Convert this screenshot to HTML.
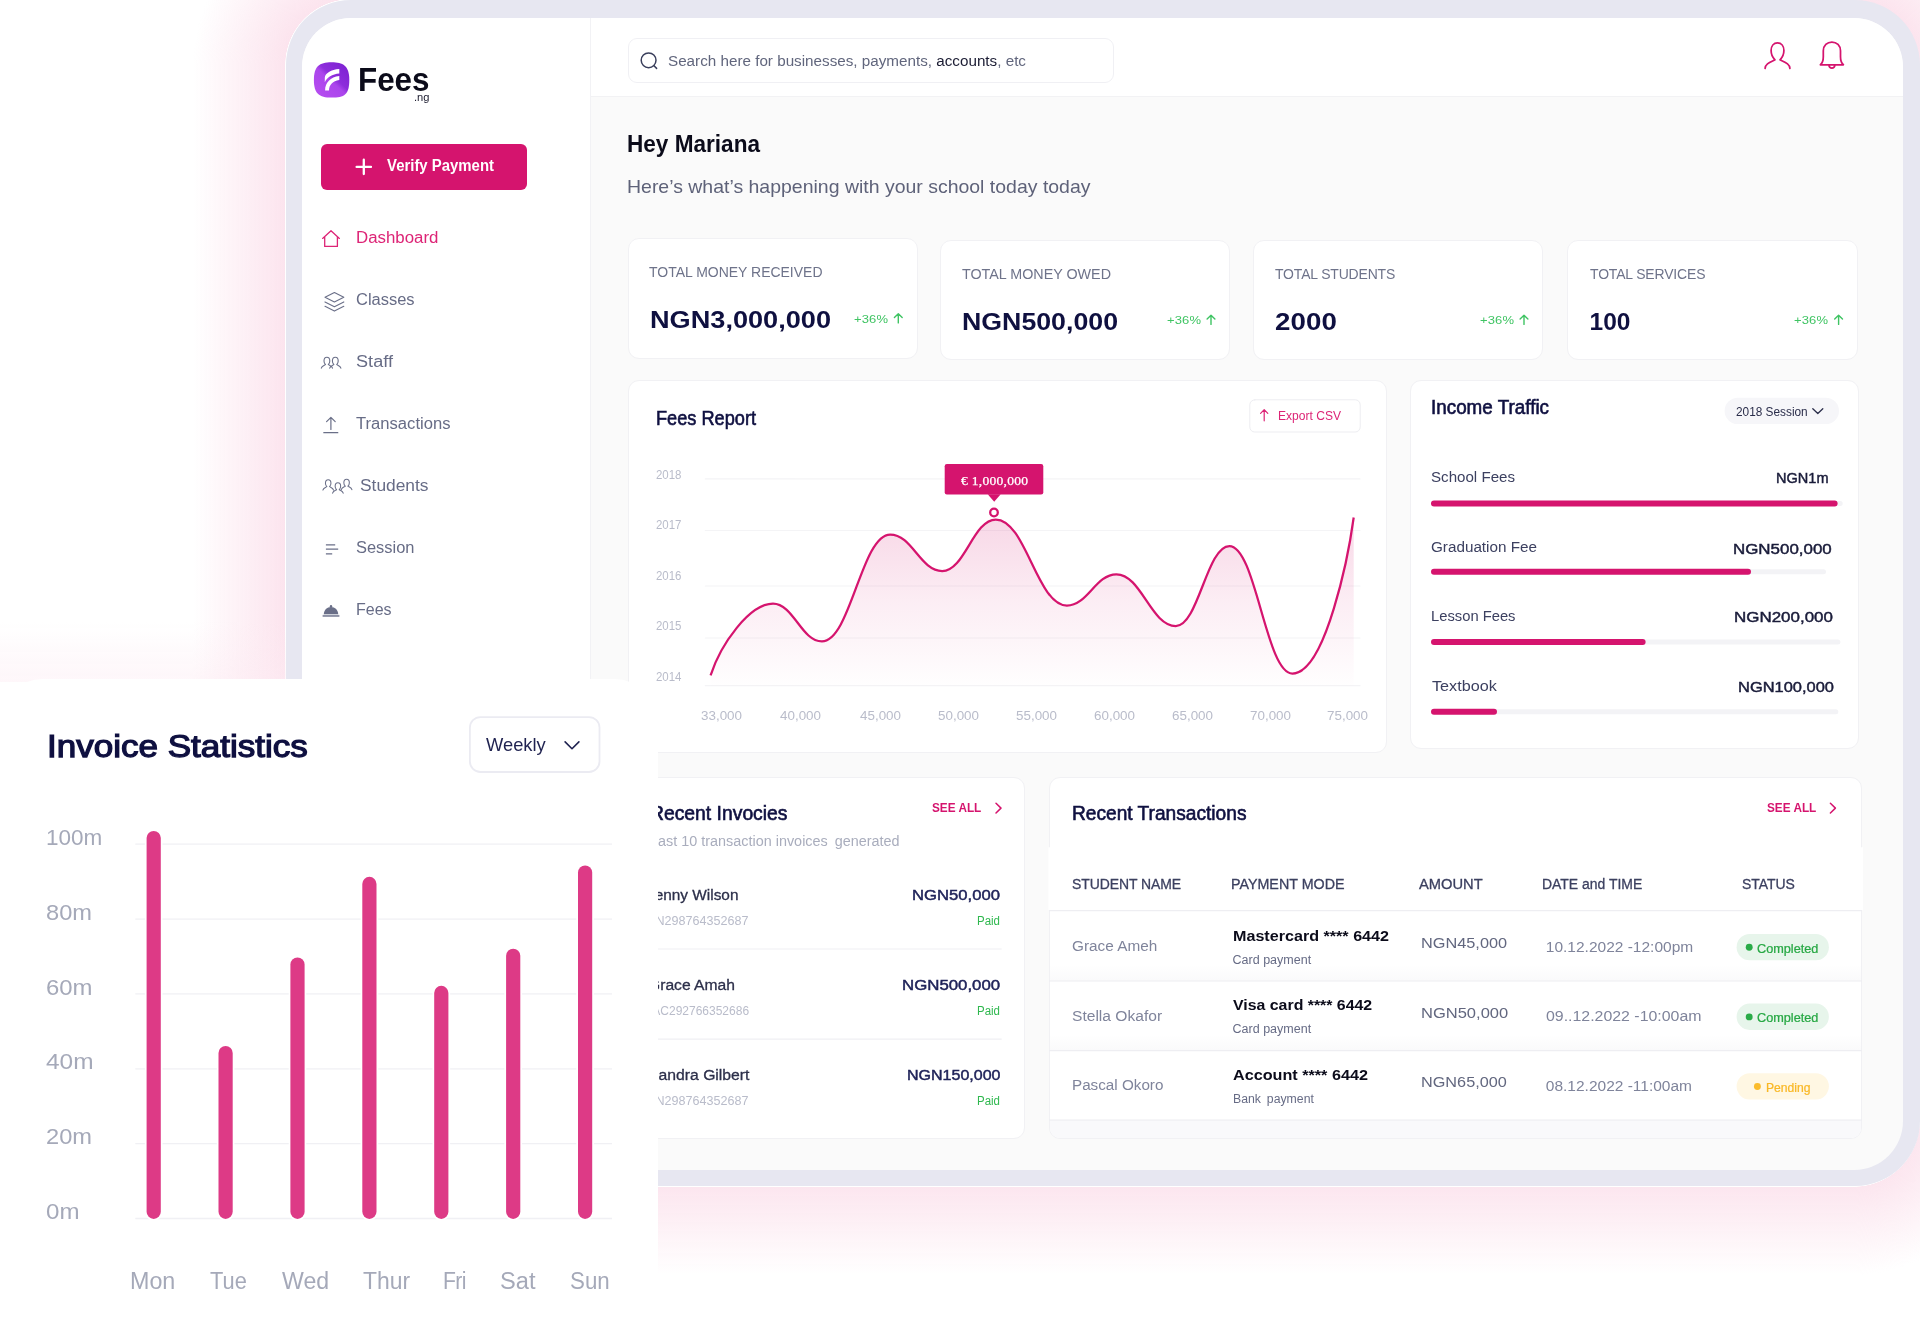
<!DOCTYPE html>
<html lang="en">
<head>
<meta charset="utf-8">
<title>Fees.ng Dashboard</title>
<style>

*{box-sizing:border-box;margin:0;padding:0}
html,body{width:1920px;height:1337px;overflow:hidden;background:#fff}
body{position:relative;font-family:"Liberation Sans",Arial,sans-serif;-webkit-font-smoothing:antialiased;will-change:transform}
.abs,.t,.card{position:absolute}
.g{display:contents}
.t{white-space:nowrap;line-height:1;display:block;transform-origin:0 50%}
.sf{font-family:"Liberation Serif","DejaVu Serif",serif}
.layer{position:absolute;left:0;top:0;width:1920px;height:1337px;will-change:transform}
.frame{position:absolute;left:286px;top:0;width:1634px;height:1186px;border-radius:65px;background:#e7e7f1}
.screen{position:absolute;left:302px;top:17.5px;width:1601px;height:1152.5px;border-radius:49px;background:#fafafa;overflow:hidden}
.screen>.in{position:absolute;left:-302px;top:-17.5px;width:1920px;height:1337px}
.sidebar{left:302px;top:17px;width:289px;height:1154px;background:#fff;border-right:1px solid #f2f2f5}
.topbar{left:591px;top:17px;width:1313px;height:80px;background:#fff;border-bottom:1px solid #f2f2f4}
.search{left:628px;top:38px;width:485.5px;height:45px;border:1px solid #f0f0f4;border-radius:9px;background:#fff}
.btn{left:321px;top:144px;width:206px;height:45.5px;border-radius:6px;background:#d5146e}
.card{background:#fff;border:1px solid #f1f1f4;border-radius:11px}
.statcard{position:absolute;left:-1px;top:678.5px;width:658.8px;height:658.5px;background:#fff;border-radius:44px}
svg{position:absolute;overflow:visible}

</style>
</head>
<body>

<div class="layer" id="bg">
  <div class="abs" style="left:193px;top:65px;width:92px;height:640px;background:linear-gradient(to right,rgba(252,228,238,0),rgba(252,228,238,.5) 50%,#fce4ee)"></div>
  <div class="abs" style="left:193px;top:0;width:158px;height:65px;background:radial-gradient(circle at 158px 65px,rgba(252,228,238,0) 65.5px,#fce4ee 66px,rgba(252,228,238,.5) 112px,rgba(252,228,238,0) 158px)"></div>
  <div class="abs" style="left:600px;top:1187px;width:1254px;height:88px;background:linear-gradient(to bottom,#fce6ef 0,rgba(252,230,239,.5) 44px,rgba(252,230,239,0) 88px)"></div>
  <div class="abs" style="left:1854px;top:1121px;width:66px;height:160px;background:radial-gradient(circle at 0 0,rgba(252,230,239,0) 65.5px,#fce6ef 66px,rgba(252,230,239,.5) 110px,rgba(252,230,239,0) 154px)"></div>
  <div class="abs" style="left:1854px;top:0;width:66px;height:66px;background:radial-gradient(circle at 0 65px,#fce4ee 65px,rgba(252,228,238,.5) 110px,rgba(252,228,238,0) 155px)"></div>
  <div class="abs" style="left:0;top:622px;width:286px;height:60px;background:linear-gradient(to bottom,rgba(253,236,243,0),rgba(253,236,243,.45))"></div>
</div>
<div class="frame"></div>
<div class="screen"><div class="in">
  <div class="abs sidebar"></div>
  <div class="abs topbar"></div>
  <div class="abs search"></div>
  <div class="abs btn"></div>

  <!-- stat cards -->
  <div class="card" style="left:627.5px;top:238px;width:290px;height:120.5px"></div>
  <div class="card" style="left:940px;top:240px;width:290px;height:120px"></div>
  <div class="card" style="left:1253px;top:240px;width:290px;height:120px"></div>
  <div class="card" style="left:1567px;top:240px;width:291px;height:120px"></div>

  <!-- fees report -->
  <div class="card" style="left:627.5px;top:380px;width:759px;height:372.5px"></div>
  <!-- income traffic -->
  <div class="card" style="left:1410px;top:380px;width:449px;height:369px"></div>
  <!-- recent invoices -->
  <div class="card" style="left:627.5px;top:776.5px;width:397px;height:362.5px"></div>
  <!-- recent transactions -->
  <div class="card" style="left:1049px;top:776.5px;width:813px;height:362.5px"></div>

  <svg width="1920" height="1337" viewBox="0 0 1920 1337" style="left:0;top:0" fill="none" stroke-linecap="round" stroke-linejoin="round">
<defs>
<linearGradient id="lg" x1="1" y1="0" x2="0.1" y2="1"><stop offset="0" stop-color="#7a1fd0"/><stop offset=".45" stop-color="#8d2ddb"/><stop offset=".55" stop-color="#ab45ec"/><stop offset="1" stop-color="#b64df0"/></linearGradient>
<linearGradient id="cf" gradientUnits="userSpaceOnUse" x1="0" y1="517" x2="0" y2="686"><stop offset="0" stop-color="#d5146e" stop-opacity=".17"/><stop offset=".5" stop-color="#d5146e" stop-opacity=".075"/><stop offset="1" stop-color="#d5146e" stop-opacity=".004"/></linearGradient>
</defs>
<g transform="translate(313.9 62.2)"><path d="M17.7 0C29 0 35.4 3.2 35.4 17.7S30.5 35.4 17.7 35.4 0 31 0 17.7 5 0 17.7 0Z" fill="url(#lg)"/><path d="M25.4 6.8C17 7.4 11.2 11 10.9 15.5V20c2-5 7.5-8.2 14.5-8.8Z" fill="#fff"/><path d="M25.4 13.8C16.5 14.8 11.2 20.5 11.2 28.2h3.9c.1-5.2 3.8-9.6 10.3-10.3Z" fill="#fff"/></g>
<path d="M356.600 166.900h14.400M363.800 159.700v14.400" stroke="#fff" stroke-width="2.300"/>
<path d="M322.6 238.4 331 230.8l8.4 7.6M324.7 237v9.4h12.7V237" stroke="#dd2476" stroke-width="1.3"/>
<g stroke="#6a6f88" stroke-width="1.1"><path d="M334.4 292.5 343.8 297.3 334.4 302 325 297.3Z"/><path d="M325 301.9 334.4 306.7 343.8 301.9M325 306.3 334.4 311.1 343.8 306.3"/></g>
<path d="M321.30 368.20c0.40 -2.20 2.40 -2.60 4.20 -3.60c-1.20 -1.00 -1.50 -2.20 -1.50 -3.60c0 -2.20 1.30 -3.70 2.90 -3.70s2.90 1.50 2.90 3.70c0 1.40 -0.30 2.60 -1.50 3.60c1.80 1.00 3.80 1.40 4.20 3.60M329.70 368.20c0.40 -2.20 2.40 -2.60 4.20 -3.60c-1.20 -1.00 -1.50 -2.20 -1.50 -3.60c0 -2.20 1.30 -3.70 2.90 -3.70s2.90 1.50 2.90 3.70c0 1.40 -0.30 2.60 -1.50 3.60c1.80 1.00 3.80 1.40 4.20 3.60" stroke="#6a6f88" stroke-width="1.1"/>
<path d="M323.8 432.7h14M330.9 429.4v-12M326.6 421.6l4.3-4.3 4.3 4.3" stroke="#6a6f88" stroke-width="1.2"/>
<path d="M322.88 490.04c0.38 -2.09 2.28 -2.47 3.99 -3.42c-1.14 -0.95 -1.42 -2.09 -1.42 -3.42c0 -2.09 1.23 -3.52 2.75 -3.52s2.75 1.42 2.75 3.52c0 1.33 -0.28 2.47 -1.42 3.42c1.71 0.95 3.61 1.33 3.99 3.42M332.58 493.14c0.38 -2.09 2.28 -2.47 3.99 -3.42c-1.14 -0.95 -1.42 -2.09 -1.42 -3.42c0 -2.09 1.23 -3.52 2.75 -3.52s2.75 1.42 2.75 3.52c0 1.33 -0.28 2.47 -1.42 3.42c1.71 0.95 3.61 1.33 3.99 3.42M341.28 489.64c0.38 -2.09 2.28 -2.47 3.99 -3.42c-1.14 -0.95 -1.42 -2.09 -1.42 -3.42c0 -2.09 1.23 -3.52 2.75 -3.52s2.75 1.42 2.75 3.52c0 1.33 -0.28 2.47 -1.42 3.42c1.71 0.95 3.61 1.33 3.99 3.42" stroke="#6a6f88" stroke-width="1.05"/>
<path d="M325.9 544.8h9.3M325.9 549.2h12.3M325.9 553.8h6.3" stroke="#6a6f88" stroke-width="1.3" stroke-linecap="butt"/>
<path d="M323.8 614.3c0-4.2 3.2-7.4 7.2-7.4s7.2 3.2 7.2 7.4Z" fill="#6a6f88"/><circle cx="331" cy="606.3" r="1.2" fill="#6a6f88"/><rect x="322.6" y="614.9" width="16.8" height="2" fill="#8e92a6"/>
<circle cx="648.6" cy="60.3" r="7.4" stroke="#3a3f5c" stroke-width="1.5"/><path d="M654 65.8l2.6 2.6" stroke="#3a3f5c" stroke-width="1.5"/>
<path d="M1765.1 68.4c.2-4.6 4.5-6 9.9-8.6-2.6-2.4-3.9-5.3-3.9-9.2 0-4.6 2.6-7.7 6.4-7.7s6.4 3.1 6.4 7.7c0 3.9-1.3 6.8-3.9 9.200 5.400 2.600 9.700 4.000 9.900 8.600" stroke="#d5146e" stroke-width="1.75"/>
<path d="M1820.4 64.800c2.600-2.000 2.900-5.000 2.900-8.000v-6c0-5.200 3.800-8.800 8.600-8.800s8.600 3.600 8.600 8.800v6c0 3.000.3 6.000 2.900 8.000ZM1828.900 65.200c.3 1.900 1.400 3.000 3.000 3.000s2.700-1.100 3.000-3.000" stroke="#d5146e" stroke-width="1.75"/>
<path d="M898.3 322.9v-9.200M894.4 317.6l3.900-3.900 3.900 3.900" stroke="#3fc463" stroke-width="1.4"/>
<path d="M1211.0 324.4v-9.200M1207.1 319.1l3.900-3.900 3.900 3.900" stroke="#3fc463" stroke-width="1.4"/>
<path d="M1524.0 324.4v-9.200M1520.1 319.1l3.900-3.900 3.900 3.900" stroke="#3fc463" stroke-width="1.4"/>
<path d="M1838.6 324.4v-9.200M1834.7 319.1l3.900-3.900 3.900 3.900" stroke="#3fc463" stroke-width="1.4"/>
<rect x="1249.800" y="399.800" width="110.400" height="32.200" rx="5" fill="#fff" stroke="#ededf1"/>
<path d="M1264.200 420.800v-11M1260.600 413.400l3.600-3.700 3.600 3.700" stroke="#dd2476" stroke-width="1.2"/>
<path d="M705.300 478.9H1360" stroke="#f4f4f6" stroke-width="1.2"/>
<path d="M705.300 530.5H1360" stroke="#f4f4f6" stroke-width="1.2"/>
<path d="M705.300 586.0H1360" stroke="#f4f4f6" stroke-width="1.2"/>
<path d="M705.300 638.0H1360" stroke="#f4f4f6" stroke-width="1.2"/>
<path d="M705.300 685.7H1360" stroke="#f4f4f6" stroke-width="1.2"/>
<path d="M710.6 675.3C720.8 644.0 749.3 603.9 773.0 603.7C793.5 603.7 801.4 641.4 821.9 641.4C850.6 641.4 861.5 534.5 890.2 534.5C912.0 534.5 920.4 571.1 942.2 571.1C964.7 571.1 973.3 519.5 995.8 519.5C1025.7 519.5 1037.0 605.6 1066.9 605.6C1087.7 605.6 1095.6 574.3 1116.4 574.3C1141.3 574.3 1150.9 626.0 1175.8 626.0C1198.3 626.0 1206.9 546.0 1229.4 546.0C1255.9 546.0 1265.9 673.5 1292.4 673.5C1326.0 673.5 1349.0 552.0 1353.7 517.5V686H710.600Z" fill="url(#cf)" stroke="none"/><path d="M710.6 675.3C720.8 644.0 749.3 603.9 773.0 603.7C793.5 603.7 801.4 641.4 821.9 641.4C850.6 641.4 861.5 534.5 890.2 534.5C912.0 534.5 920.4 571.1 942.2 571.1C964.7 571.1 973.3 519.5 995.8 519.5C1025.7 519.5 1037.0 605.6 1066.9 605.6C1087.7 605.6 1095.6 574.3 1116.4 574.3C1141.3 574.3 1150.9 626.0 1175.8 626.0C1198.3 626.0 1206.9 546.0 1229.4 546.0C1255.9 546.0 1265.9 673.5 1292.4 673.5C1326.0 673.5 1349.0 552.0 1353.7 517.5" stroke="#d5146e" stroke-width="2.250" stroke-linecap="butt"/>
<rect x="944.700" y="464" width="98.600" height="30.500" rx="2.200" fill="#d5146e"/><path d="M987.700 494.300h13l-6.500 7.500Z" fill="#d5146e"/>
<circle cx="994" cy="512.500" r="3.800" fill="#fff" stroke="#d5146e" stroke-width="2.300"/>
<rect x="1724.600" y="397.700" width="114.400" height="26.400" rx="13.200" fill="#f6f6f9"/>
<path d="M1812.800 408.700l5 4.800 5-4.800" stroke="#2a2d4a" stroke-width="1.3"/>
<path d="M1433.500 503.6H1840.2" stroke="#f3f3f6" stroke-width="5"/>
<path d="M1434 503.6H1834.6" stroke="#d5146e" stroke-width="6"/>
<path d="M1433.500 571.8H1823.5" stroke="#f3f3f6" stroke-width="5"/>
<path d="M1434 571.8H1748.0" stroke="#d5146e" stroke-width="6"/>
<path d="M1433.500 642.1H1837.9" stroke="#f3f3f6" stroke-width="5"/>
<path d="M1434 642.1H1642.6" stroke="#d5146e" stroke-width="6"/>
<path d="M1433.500 711.8H1835.8" stroke="#f3f3f6" stroke-width="5"/>
<path d="M1434 711.8H1494.0" stroke="#d5146e" stroke-width="6"/>
<path d="M996 803.200l5 4.900-5 4.900" stroke="#d5146e" stroke-width="1.5"/>
<path d="M650 949H1001.700M650 1039.200H1001.700" stroke="#f0f0f3" stroke-width="1.2" stroke-linecap="butt"/>
<path d="M1830.400 803.200l5 4.900-5 4.900" stroke="#d5146e" stroke-width="1.5"/>
<rect x="1048.500" y="847.300" width="814.5" height="63" fill="#fff"/>
<path d="M1050 1120.800H1861V1128a10 10 0 0 1-10 10H1060a10 10 0 0 1-10-10Z" fill="#f9f9fb"/>
<defs><linearGradient id="rs" x1="0" y1="0" x2="0" y2="1"><stop offset="0" stop-color="#14143c" stop-opacity="0"/><stop offset="1" stop-color="#14143c" stop-opacity=".022"/></linearGradient></defs>
<rect x="1050" y="965.0" width="811" height="16" fill="url(#rs)"/>
<rect x="1050" y="1034.6" width="811" height="16" fill="url(#rs)"/>
<g stroke="#eeeef2" stroke-width="1.2" stroke-linecap="butt"><path d="M1049 910.600H1862M1049 981H1862M1049 1050.600H1862M1049 1120.200H1862"/></g>
<rect x="1736.600" y="934.0" width="92.300" height="26.300" rx="13.150" fill="#e7f5eb"/><circle cx="1749.2" cy="947.3" r="3.450" fill="#2aab48"/>
<rect x="1736.600" y="1003.6" width="92.300" height="26.300" rx="13.150" fill="#e7f5eb"/><circle cx="1749.2" cy="1016.9" r="3.450" fill="#2aab48"/>
<rect x="1736.600" y="1073.2" width="92.300" height="26.300" rx="13.150" fill="#fff7e3"/><circle cx="1757.4" cy="1086.5" r="3.450" fill="#fbbc2c"/>
</svg>
  <nav class="g" aria-label="Sidebar navigation">
<span class="t" style="left:357.50px;top:63.20px;font-size:33.00px;font-weight:700;color:#0b0b1a;transform:scaleX(0.9506)">Fees</span>
<span class="t" style="left:413.50px;top:91.50px;font-size:10.50px;color:#1a1a2e;transform:scaleX(1.0610)">.ng</span>
<span class="t" style="left:386.70px;top:158.20px;font-size:16.00px;font-weight:700;color:#fff;transform:scaleX(0.9326)">Verify Payment</span>
<span class="t" style="left:356.30px;top:229.80px;font-size:16.00px;color:#dd2476;transform:scaleX(1.0526)">Dashboard</span>
<span class="t" style="left:355.70px;top:291.90px;font-size:16.00px;color:#676c86;transform:scaleX(1.0298)">Classes</span>
<span class="t" style="left:355.70px;top:353.90px;font-size:16.00px;color:#676c86;letter-spacing:0.030px;transform:scaleX(1.1300)">Staff</span>
<span class="t" style="left:355.70px;top:416.00px;font-size:16.00px;color:#676c86;transform:scaleX(1.0385)">Transactions</span>
<span class="t" style="left:359.50px;top:478.00px;font-size:16.00px;color:#676c86;transform:scaleX(1.0846)">Students</span>
<span class="t" style="left:356.00px;top:540.10px;font-size:16.00px;color:#676c86;transform:scaleX(1.0277)">Session</span>
<span class="t" style="left:356.00px;top:602.20px;font-size:16.00px;color:#676c86">Fees</span>
</nav>
<header class="g" aria-label="Search">
<span class="t" style="left:667.70px;top:53.30px;font-size:15.40px;color:#61667d;transform:scaleX(0.9892)">Search here for businesses, payments, <span style="color:#1b1c33">accounts</span>, etc</span>
</header>
<section class="g" aria-label="Greeting">
<span class="t" style="left:626.50px;top:133.00px;font-size:23.00px;font-weight:700;color:#0b0b1a;transform:scaleX(0.9814)">Hey Mariana</span>
<span class="t" style="left:626.50px;top:177.60px;font-size:18.50px;color:#5e6279;transform:scaleX(1.0522)">Here’s what’s happening with your school today today</span>
</section>
<section class="g" aria-label="Totals">
<span class="t" style="left:649.00px;top:264.10px;font-size:15.50px;color:#6e738a;transform:scaleX(0.9020)">TOTAL MONEY RECEIVED</span>
<span class="t" style="left:649.50px;top:308.00px;font-size:24.50px;font-weight:700;color:#0f1040;transform:scaleX(1.1075)">NGN3,000,000</span>
<span class="t" style="left:853.80px;top:314.00px;font-size:11.50px;color:#3fc463;letter-spacing:0.118px;transform:scaleX(1.1300)">+36%</span>
<span class="t" style="left:962.00px;top:265.50px;font-size:15.50px;color:#6e738a;transform:scaleX(0.9235)">TOTAL MONEY OWED</span>
<span class="t" style="left:962.30px;top:309.50px;font-size:24.50px;font-weight:700;color:#0f1040;transform:scaleX(1.0908)">NGN500,000</span>
<span class="t" style="left:1166.50px;top:315.00px;font-size:11.50px;color:#3fc463;letter-spacing:0.118px;transform:scaleX(1.1300)">+36%</span>
<span class="t" style="left:1274.50px;top:265.50px;font-size:15.50px;color:#6e738a;letter-spacing:-0.164px;transform:scaleX(0.9000)">TOTAL STUDENTS</span>
<span class="t" style="left:1274.50px;top:309.50px;font-size:24.50px;font-weight:700;color:#0f1040;letter-spacing:0.117px;transform:scaleX(1.1300)">2000</span>
<span class="t" style="left:1479.80px;top:315.00px;font-size:11.50px;color:#3fc463;letter-spacing:0.118px;transform:scaleX(1.1300)">+36%</span>
<span class="t" style="left:1589.60px;top:265.50px;font-size:15.50px;color:#6e738a;letter-spacing:-0.156px;transform:scaleX(0.9000)">TOTAL SERVICES</span>
<span class="t" style="left:1589.60px;top:309.50px;font-size:24.50px;font-weight:700;color:#0f1040">100</span>
<span class="t" style="left:1794.40px;top:315.00px;font-size:11.50px;color:#3fc463;letter-spacing:0.118px;transform:scaleX(1.1300)">+36%</span>
</section>
<section class="g" aria-label="Fees Report">
<span class="t" style="left:655.80px;top:408.80px;font-size:19.30px;color:#0f1040;transform:scaleX(0.9424);-webkit-text-stroke:0.60px #0f1040">Fees Report</span>
<span class="t" style="left:1278.00px;top:409.50px;font-size:12.00px;color:#dd2476;transform:scaleX(1.0047)">Export CSV</span>
<span class="t" style="left:655.80px;top:468.60px;font-size:12.00px;color:#b9bcca;transform:scaleX(0.9549)">2018</span>
<span class="t" style="left:655.80px;top:519.10px;font-size:12.00px;color:#b9bcca;transform:scaleX(0.9549)">2017</span>
<span class="t" style="left:655.80px;top:569.60px;font-size:12.00px;color:#b9bcca;transform:scaleX(0.9549)">2016</span>
<span class="t" style="left:655.80px;top:620.10px;font-size:12.00px;color:#b9bcca;transform:scaleX(0.9549)">2015</span>
<span class="t" style="left:655.80px;top:670.60px;font-size:12.00px;color:#b9bcca;transform:scaleX(0.9549)">2014</span>
<span class="t" style="left:700.50px;top:709.60px;font-size:12.00px;color:#b9bcca;transform:scaleX(1.1171)">33,000</span>
<span class="t" style="left:779.50px;top:709.60px;font-size:12.00px;color:#b9bcca;transform:scaleX(1.1171)">40,000</span>
<span class="t" style="left:859.50px;top:709.60px;font-size:12.00px;color:#b9bcca;transform:scaleX(1.1171)">45,000</span>
<span class="t" style="left:937.50px;top:709.60px;font-size:12.00px;color:#b9bcca;transform:scaleX(1.1171)">50,000</span>
<span class="t" style="left:1015.50px;top:709.60px;font-size:12.00px;color:#b9bcca;transform:scaleX(1.1171)">55,000</span>
<span class="t" style="left:1093.50px;top:709.60px;font-size:12.00px;color:#b9bcca;transform:scaleX(1.1171)">60,000</span>
<span class="t" style="left:1171.50px;top:709.60px;font-size:12.00px;color:#b9bcca;transform:scaleX(1.1171)">65,000</span>
<span class="t" style="left:1249.50px;top:709.60px;font-size:12.00px;color:#b9bcca;transform:scaleX(1.1171)">70,000</span>
<span class="t" style="left:1326.50px;top:709.60px;font-size:12.00px;color:#b9bcca;transform:scaleX(1.1171)">75,000</span>
<span class="t sf" style="left:960.70px;top:474.80px;font-size:12.00px;color:#fff;letter-spacing:0.229px;transform:scaleX(1.1300);-webkit-text-stroke:.25px #fff">€ 1,000,000</span>
</section>
<section class="g" aria-label="Income Traffic">
<span class="t" style="left:1430.60px;top:398.30px;font-size:19.50px;color:#0f1040;transform:scaleX(0.9663);-webkit-text-stroke:0.60px #0f1040">Income Traffic</span>
<span class="t" style="left:1736.00px;top:405.60px;font-size:12.00px;color:#2a2d4a;transform:scaleX(0.9858)">2018 Session</span>
<span class="t" style="left:1431.00px;top:469.30px;font-size:15.50px;color:#3c4060;transform:scaleX(0.9748)">School Fees</span>
<span class="t" style="left:1776.20px;top:470.20px;font-size:15.50px;color:#1a1c3a;transform:scaleX(0.9378);-webkit-text-stroke:0.48px #1a1c3a">NGN1m</span>
<span class="t" style="left:1431.00px;top:538.70px;font-size:15.50px;color:#3c4060;transform:scaleX(0.9840)">Graduation Fee</span>
<span class="t" style="left:1732.50px;top:541.30px;font-size:15.50px;color:#1a1c3a;transform:scaleX(1.0908);-webkit-text-stroke:0.48px #1a1c3a">NGN500,000</span>
<span class="t" style="left:1431.00px;top:607.80px;font-size:15.50px;color:#3c4060;transform:scaleX(0.9521)">Lesson Fees</span>
<span class="t" style="left:1734.20px;top:609.30px;font-size:15.50px;color:#1a1c3a;transform:scaleX(1.0941);-webkit-text-stroke:0.48px #1a1c3a">NGN200,000</span>
<span class="t" style="left:1432.00px;top:677.80px;font-size:15.50px;color:#3c4060;transform:scaleX(1.0444)">Textbook</span>
<span class="t" style="left:1737.80px;top:678.80px;font-size:15.50px;color:#1a1c3a;transform:scaleX(1.0610);-webkit-text-stroke:0.48px #1a1c3a">NGN100,000</span>
</section>
<section class="g" aria-label="Recent Invoices">
<span class="t" style="left:649.50px;top:804.00px;font-size:19.50px;color:#0f1040;transform:scaleX(0.9910);-webkit-text-stroke:0.60px #0f1040">Recent Invocies</span>
<span class="t" style="left:932.00px;top:802.30px;font-size:12.00px;font-weight:700;color:#d5146e;transform:scaleX(0.9814)">SEE ALL</span>
<span class="t" style="left:649.50px;top:834.00px;font-size:14.00px;color:#a9adbd;transform:scaleX(1.0288)">Last 10 transaction invoices  generated</span>
<span class="t" style="left:647.20px;top:887.30px;font-size:15.50px;color:#2c2f4a;transform:scaleX(0.9925);-webkit-text-stroke:0.31px #2c2f4a">Jenny Wilson</span>
<span class="t" style="left:912.20px;top:887.30px;font-size:15.50px;color:#20245a;transform:scaleX(1.0750);-webkit-text-stroke:0.48px #20245a">NGN50,000</span>
<span class="t" style="left:651.50px;top:915.40px;font-size:12.00px;color:#b9bcca;transform:scaleX(1.0478)">IN298764352687</span>
<span class="t" style="left:977.20px;top:915.40px;font-size:12.00px;color:#2fb84f;transform:scaleX(0.9571)">Paid</span>
<span class="t" style="left:648.00px;top:977.00px;font-size:15.50px;color:#2c2f4a;transform:scaleX(1.0098);-webkit-text-stroke:0.31px #2c2f4a">Grace Amah</span>
<span class="t" style="left:902.00px;top:977.00px;font-size:15.50px;color:#20245a;transform:scaleX(1.0853);-webkit-text-stroke:0.48px #20245a">NGN500,000</span>
<span class="t" style="left:652.30px;top:1005.10px;font-size:12.00px;color:#b9bcca">AC292766352686</span>
<span class="t" style="left:977.20px;top:1005.10px;font-size:12.00px;color:#2fb84f;transform:scaleX(0.9571)">Paid</span>
<span class="t" style="left:648.20px;top:1066.70px;font-size:15.50px;color:#2c2f4a;transform:scaleX(1.0155);-webkit-text-stroke:0.31px #2c2f4a">Sandra Gilbert</span>
<span class="t" style="left:906.70px;top:1066.70px;font-size:15.50px;color:#20245a;transform:scaleX(1.0333);-webkit-text-stroke:0.48px #20245a">NGN150,000</span>
<span class="t" style="left:651.50px;top:1094.80px;font-size:12.00px;color:#b9bcca;transform:scaleX(1.0478)">IN298764352687</span>
<span class="t" style="left:977.20px;top:1094.80px;font-size:12.00px;color:#2fb84f;transform:scaleX(0.9571)">Paid</span>
</section>
<section class="g" aria-label="Recent Transactions">
<span class="t" style="left:1071.60px;top:804.00px;font-size:19.50px;color:#0f1040;transform:scaleX(0.9816);-webkit-text-stroke:0.60px #0f1040">Recent Transactions</span>
<span class="t" style="left:1766.60px;top:802.30px;font-size:12.00px;font-weight:700;color:#d5146e;transform:scaleX(0.9814)">SEE ALL</span>
<span class="t" style="left:1071.60px;top:875.70px;font-size:15.50px;color:#3c4060;letter-spacing:-0.082px;transform:scaleX(0.9000);-webkit-text-stroke:0.31px #3c4060">STUDENT NAME</span>
<span class="t" style="left:1231.00px;top:875.70px;font-size:15.50px;color:#3c4060;transform:scaleX(0.9216);-webkit-text-stroke:0.31px #3c4060">PAYMENT MODE</span>
<span class="t" style="left:1419.30px;top:875.70px;font-size:15.50px;color:#3c4060;transform:scaleX(0.9483);-webkit-text-stroke:0.31px #3c4060">AMOUNT</span>
<span class="t" style="left:1542.10px;top:875.70px;font-size:15.50px;color:#3c4060;transform:scaleX(0.9003);-webkit-text-stroke:0.31px #3c4060">DATE and TIME</span>
<span class="t" style="left:1742.10px;top:875.70px;font-size:15.50px;color:#3c4060;letter-spacing:-0.039px;transform:scaleX(0.9000);-webkit-text-stroke:0.31px #3c4060">STATUS</span>
<span class="t" style="left:1071.60px;top:938.00px;font-size:15.50px;color:#7f849b;transform:scaleX(0.9889)">Grace Ameh</span>
<span class="t" style="left:1232.60px;top:927.80px;font-size:15.00px;font-weight:700;color:#0b0b1a;transform:scaleX(1.0752)">Mastercard **** 6442</span>
<span class="t" style="left:1232.60px;top:953.80px;font-size:12.50px;color:#666b85">Card payment</span>
<span class="t" style="left:1420.80px;top:934.90px;font-size:15.50px;color:#62677f;transform:scaleX(1.0518)">NGN45,000</span>
<span class="t" style="left:1545.80px;top:938.60px;font-size:15.50px;color:#7f849b">10.12.2022 -12:00pm</span>
<span class="t" style="left:1071.60px;top:1007.60px;font-size:15.50px;color:#7f849b;transform:scaleX(1.0055)">Stella Okafor</span>
<span class="t" style="left:1232.60px;top:997.40px;font-size:15.00px;font-weight:700;color:#0b0b1a;transform:scaleX(1.0586)">Visa card **** 6442</span>
<span class="t" style="left:1232.60px;top:1023.40px;font-size:12.50px;color:#666b85">Card payment</span>
<span class="t" style="left:1420.80px;top:1004.50px;font-size:15.50px;color:#62677f;transform:scaleX(1.0652)">NGN50,000</span>
<span class="t" style="left:1545.80px;top:1008.20px;font-size:15.50px;color:#7f849b;transform:scaleX(1.0252)">09..12.2022 -10:00am</span>
<span class="t" style="left:1071.60px;top:1077.20px;font-size:15.50px;color:#7f849b;transform:scaleX(0.9823)">Pascal Okoro</span>
<span class="t" style="left:1232.60px;top:1067.00px;font-size:15.00px;font-weight:700;color:#0b0b1a;transform:scaleX(1.0787)">Account **** 6442</span>
<span class="t" style="left:1232.60px;top:1093.00px;font-size:12.50px;color:#666b85;transform:scaleX(0.9815)">Bank  payment</span>
<span class="t" style="left:1420.80px;top:1074.10px;font-size:15.50px;color:#62677f;transform:scaleX(1.0481)">NGN65,000</span>
<span class="t" style="left:1545.80px;top:1077.80px;font-size:15.50px;color:#7f849b">08.12.2022 -11:00am</span>
<span class="t" style="left:1757.40px;top:942.50px;font-size:12.00px;color:#27a844;transform:scaleX(1.0581);-webkit-text-stroke:0.24px #27a844">Completed</span>
<span class="t" style="left:1757.40px;top:1012.10px;font-size:12.00px;color:#27a844;transform:scaleX(1.0581);-webkit-text-stroke:0.24px #27a844">Completed</span>
<span class="t" style="left:1765.70px;top:1081.70px;font-size:12.00px;color:#f9b826;transform:scaleX(1.0103);-webkit-text-stroke:0.24px #f9b826">Pending</span>
</section>
</div></div>

<div class="statcard"></div>
<div class="layer" id="stat">
  <svg width="1920" height="1337" viewBox="0 0 1920 1337" style="left:0;top:0" fill="none" stroke-linecap="round" stroke-linejoin="round">
<rect x="469.900" y="717.100" width="129.600" height="54.900" rx="10.500" fill="#fff" stroke="#ebebf2" stroke-width="1.800"/>
<path d="M565.100 741.900l6.900 6.800 6.900-6.800" stroke="#1f2250" stroke-width="1.600"/>
<path d="M135.300 844.2H612" stroke="#f0f0f4" stroke-width="1.300" stroke-linecap="butt"/>
<path d="M135.300 919.1H612" stroke="#f0f0f4" stroke-width="1.300" stroke-linecap="butt"/>
<path d="M135.300 993.9H612" stroke="#f0f0f4" stroke-width="1.300" stroke-linecap="butt"/>
<path d="M135.300 1068.8H612" stroke="#f0f0f4" stroke-width="1.300" stroke-linecap="butt"/>
<path d="M135.300 1143.6H612" stroke="#f0f0f4" stroke-width="1.300" stroke-linecap="butt"/>
<path d="M135.300 1218.5H612" stroke="#f0f0f4" stroke-width="1.300" stroke-linecap="butt"/>
<path d="M153.7 838.1V1211.8" stroke="#fff" stroke-width="17.600"/>
<path d="M153.7 838.1V1211.8" stroke="#dd3a86" stroke-width="14.200"/>
<path d="M225.6 1053.1V1211.8" stroke="#fff" stroke-width="17.600"/>
<path d="M225.6 1053.1V1211.8" stroke="#dd3a86" stroke-width="14.200"/>
<path d="M297.5 964.6V1211.8" stroke="#fff" stroke-width="17.600"/>
<path d="M297.5 964.6V1211.8" stroke="#dd3a86" stroke-width="14.200"/>
<path d="M369.4 883.9V1211.8" stroke="#fff" stroke-width="17.600"/>
<path d="M369.4 883.9V1211.8" stroke="#dd3a86" stroke-width="14.200"/>
<path d="M441.3 992.9V1211.8" stroke="#fff" stroke-width="17.600"/>
<path d="M441.3 992.9V1211.8" stroke="#dd3a86" stroke-width="14.200"/>
<path d="M513.2 955.8V1211.8" stroke="#fff" stroke-width="17.600"/>
<path d="M513.2 955.8V1211.8" stroke="#dd3a86" stroke-width="14.200"/>
<path d="M585.1 872.5V1211.8" stroke="#fff" stroke-width="17.600"/>
<path d="M585.1 872.5V1211.8" stroke="#dd3a86" stroke-width="14.200"/>
</svg>
  <section class="g" aria-label="Invoice Statistics">
<span class="t" style="left:47.20px;top:731.20px;font-size:31.30px;color:#0f1040;transform:scaleX(1.1189);-webkit-text-stroke:1.25px #0f1040">Invoice Statistics</span>
<span class="t" style="left:486.20px;top:735.70px;font-size:18.50px;color:#1f2250;transform:scaleX(0.9912)">Weekly</span>
<span class="t" style="left:46.00px;top:827.00px;font-size:22.50px;color:#a5a9b9">100m</span>
<span class="t" style="left:46.00px;top:901.80px;font-size:22.50px;color:#a5a9b9;transform:scaleX(1.0507)">80m</span>
<span class="t" style="left:46.00px;top:976.60px;font-size:22.50px;color:#a5a9b9;transform:scaleX(1.0621)">60m</span>
<span class="t" style="left:46.00px;top:1051.40px;font-size:22.50px;color:#a5a9b9;transform:scaleX(1.0849)">40m</span>
<span class="t" style="left:46.00px;top:1126.20px;font-size:22.50px;color:#a5a9b9;transform:scaleX(1.0507)">20m</span>
<span class="t" style="left:46.00px;top:1201.00px;font-size:22.50px;color:#a5a9b9;transform:scaleX(1.0715)">0m</span>
<span class="t" style="left:130.00px;top:1269.60px;font-size:23.50px;color:#a5a9b9;transform:scaleX(0.9908)">Mon</span>
<span class="t" style="left:210.40px;top:1269.60px;font-size:23.50px;color:#a5a9b9;transform:scaleX(0.9287)">Tue</span>
<span class="t" style="left:282.30px;top:1269.60px;font-size:23.50px;color:#a5a9b9;transform:scaleX(0.9832)">Wed</span>
<span class="t" style="left:363.00px;top:1269.60px;font-size:23.50px;color:#a5a9b9;transform:scaleX(0.9746)">Thur</span>
<span class="t" style="left:443.40px;top:1269.60px;font-size:23.50px;color:#a5a9b9;letter-spacing:-0.703px;transform:scaleX(0.9000)">Fri</span>
<span class="t" style="left:500.40px;top:1269.60px;font-size:23.50px;color:#a5a9b9;transform:scaleX(1.0062)">Sat</span>
<span class="t" style="left:569.50px;top:1269.60px;font-size:23.50px;color:#a5a9b9;transform:scaleX(0.9491)">Sun</span>
</section>
</div>

</body>
</html>
